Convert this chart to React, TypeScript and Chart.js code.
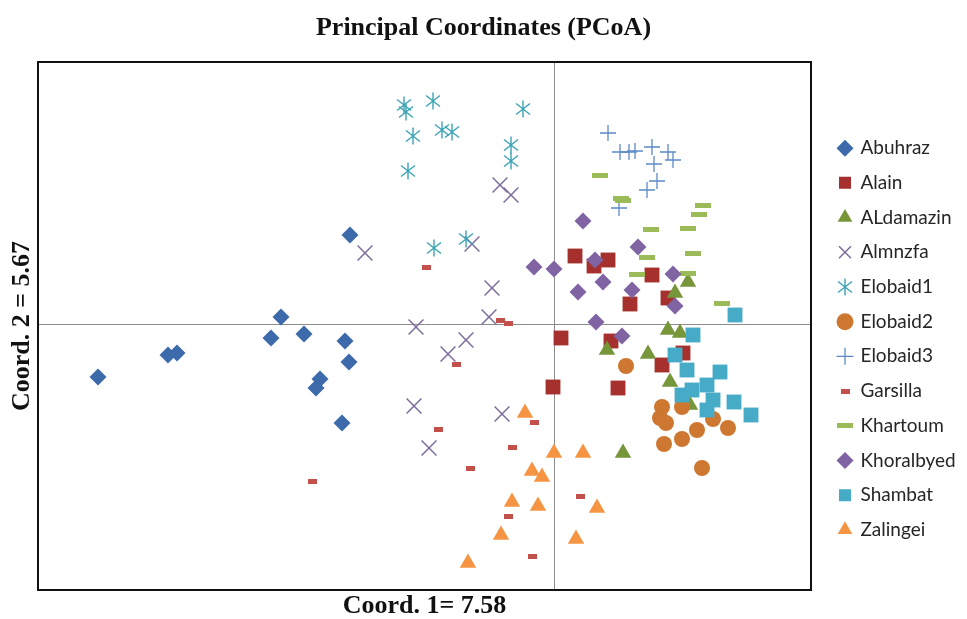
import React, { useEffect, useRef } from "react";
import { Chart, registerables } from "chart.js";

Chart.register(...registerables);

// ---- Data (Coord. 1, Coord. 2) per population ----
const abuhraz: [number, number][] = [
  [-2.73, 0.07], [-2.04, 0.89], [-4.56, -0.53], [-3.86, -0.31], [-3.77, -0.29], [-2.83, -0.14],
  [-2.5, -0.1], [-2.09, -0.17], [-2.05, -0.38], [-2.34, -0.55], [-2.38, -0.64], [-2.12, -0.99],
];
const alain: [number, number][] = [
  [0.21, 0.68], [0.4, 0.58], [0.54, 0.64], [0.98, 0.49], [0.76, 0.2], [1.14, 0.26],
  [0.07, -0.14], [0.57, -0.17], [1.29, -0.29], [1.08, -0.41], [-0.01, -0.63], [0.64, -0.64],
];
const aldamazin: [number, number][] = [
  [1.34, 0.42], [1.21, 0.31], [1.14, -0.06], [1.26, -0.09], [0.53, -0.26], [0.94, -0.3],
  [1.16, -0.58], [1.36, -0.81], [0.69, -1.29],
];
const almnzfa: [number, number][] = [
  [-0.54, 1.39], [-0.43, 1.29], [-1.89, 0.71], [-0.82, 0.8], [-0.62, 0.36], [-0.65, 0.07],
  [-1.38, -0.03], [-0.88, -0.16], [-1.06, -0.3], [-1.4, -0.82], [-0.52, -0.9], [-1.25, -1.24],
];
const elobaid1: [number, number][] = [
  [-1.5, 2.19], [-1.48, 2.12], [-1.21, 2.23], [-0.31, 2.15], [-1.41, 1.88], [-1.12, 1.94],
  [-1.02, 1.92], [-0.43, 1.79], [-0.43, 1.63], [-1.46, 1.53], [-1.2, 0.76], [-0.88, 0.85],
];
const elobaid2: [number, number][] = [
  [0.72, -0.42], [1.08, -0.83], [1.28, -0.83], [1.06, -0.94], [1.12, -0.99], [1.59, -0.95],
  [1.43, -1.06], [1.74, -1.04], [1.1, -1.2], [1.28, -1.15], [1.48, -1.44],
];
const elobaid3: [number, number][] = [
  [0.54, 1.91], [0.66, 1.72], [0.75, 1.72], [0.81, 1.73], [0.98, 1.77], [1.14, 1.72],
  [1.19, 1.64], [1.0, 1.6], [1.03, 1.43], [0.93, 1.34], [0.65, 1.16],
];
const garsilla: [number, number][] = [
  [-1.28, 0.57], [-0.54, 0.04], [-0.46, 0.01], [-0.98, -0.4], [-1.16, -1.05], [-0.2, -0.98],
  [-0.42, -1.23], [-0.84, -1.44], [-2.42, -1.57], [0.26, -1.72], [-0.46, -1.92], [-0.22, -2.32],
];
const khartoum: [number, number][] = [
  [0.46, 1.49], [0.69, 1.24], [0.67, 1.26], [1.49, 1.19], [1.45, 1.1], [0.97, 0.95],
  [1.34, 0.96], [0.93, 0.67], [1.39, 0.71], [0.83, 0.5], [1.34, 0.51], [1.68, 0.21],
];
const khoralbyed: [number, number][] = [
  [-0.2, 0.57], [0.0, 0.55], [0.29, 1.03], [0.41, 0.64], [0.84, 0.77], [0.49, 0.42],
  [0.24, 0.32], [0.78, 0.34], [1.19, 0.5], [1.21, 0.18], [0.42, 0.02], [0.68, -0.12],
];
const shambat: [number, number][] = [
  [1.81, 0.09], [1.39, -0.11], [1.21, -0.31], [1.33, -0.46], [1.66, -0.48], [1.53, -0.61],
  [1.28, -0.71], [1.38, -0.66], [1.59, -0.76], [1.53, -0.86], [1.8, -0.78], [1.97, -0.91],
];
const zalingei: [number, number][] = [
  [-0.29, -0.89], [0.0, -1.29], [0.29, -1.29], [-0.22, -1.47], [-0.12, -1.53], [-0.42, -1.78],
  [-0.16, -1.82], [0.43, -1.84], [-0.53, -2.11], [0.22, -2.15], [-0.86, -2.39],
];

const axisRangeX: [number, number] = [-5.16, 2.57];
const axisRangeY: [number, number] = [-2.66, 2.62];

const chartTitle = "Principal Coordinates (PCoA)";
const xTitle = "Coord. 1= 7.58";
const yTitle = "Coord. 2 = 5.67";

const SERIF = "'Liberation Serif', 'Times New Roman', serif";

function makeAsterisk(color: string) {
  const c = document.createElement("canvas");
  c.width = 18;
  c.height = 18;
  const g = c.getContext("2d")!;
  g.strokeStyle = color;
  g.lineWidth = 1.4;
  g.beginPath();
  g.moveTo(9, 0.5);
  g.lineTo(9, 17.5);
  g.moveTo(2, 3.5);
  g.lineTo(16, 14.5);
  g.moveTo(2, 14.5);
  g.lineTo(16, 3.5);
  g.stroke();
  return c;
}

function makeDash(color: string, w: number, h: number) {
  const c = document.createElement("canvas");
  c.width = w;
  c.height = h;
  const g = c.getContext("2d")!;
  g.fillStyle = color;
  g.fillRect(0, 0, w, h);
  return c;
}

const boxPlugin = {
  id: "plotBox",
  beforeDatasetsDraw(chart: any) {
    const { ctx, chartArea } = chart;
    ctx.save();
    ctx.strokeStyle = "#111";
    ctx.lineWidth = 2;
    ctx.strokeRect(chartArea.left, chartArea.top, chartArea.right - chartArea.left, chartArea.bottom - chartArea.top);
    ctx.restore();
  },
};

const legendPlacement = {
  id: "legendPlacement",
  afterInit(chart: any) {
    const legend = chart.legend;
    if (!legend) return;
    const orig = legend.fit.bind(legend);
    legend.fit = function () {
      orig();
      this.width = 156;
    };
  },
  afterLayout(chart: any) {
    const legend = chart.legend;
    if (!legend) return;
    legend.left += 12.3;
    legend.right += 12.3;
    legend.top += 13;
    legend.bottom += 13;
  },
};

export default function App() {
  const ref = useRef<HTMLCanvasElement | null>(null);

  useEffect(() => {
    if (!ref.current) return;
    const pts = (a: [number, number][]) => a.map(([x, y]) => ({ x, y }));

    const series: any[] = [
      { label: "Abuhraz", data: abuhraz, style: "rectRot", r: 8.5, color: "#3C6AAA", bw: 0 },
      { label: "Alain", data: alain, style: "rect", r: 10.5, color: "#A5302D", bw: 0 },
      { label: "ALdamazin", data: aldamazin, style: "triangle", r: 9.5, color: "#77963A", bw: 0 },
      { label: "Almnzfa", data: almnzfa, style: "crossRot", r: 10.5, color: "#7D6D9C", bw: 1.5 },
      { label: "Elobaid1", data: elobaid1, style: makeAsterisk("#3AA3B5"), r: 9, color: "#3AA3B5", bw: 1.4 },
      { label: "Elobaid2", data: elobaid2, style: "circle", r: 8, color: "#CD7730", bw: 0 },
      { label: "Elobaid3", data: elobaid3, style: "cross", r: 8, color: "#5B89C8", bw: 1.3 },
      { label: "Garsilla", data: garsilla, style: makeDash("#C4504C", 9, 5), r: 5, color: "#C4504C", bw: 0 },
      { label: "Khartoum", data: khartoum, style: makeDash("#9BBB59", 16, 5), r: 8, color: "#9BBB59", bw: 0 },
      { label: "Khoralbyed", data: khoralbyed, style: "rectRot", r: 8.5, color: "#8063A3", bw: 0 },
      { label: "Shambat", data: shambat, style: "rect", r: 10.5, color: "#45ABC7", bw: 0 },
      { label: "Zalingei", data: zalingei, style: "triangle", r: 9.5, color: "#F59443", bw: 0 },
    ];

    const datasets = series.map((s, i) => ({
      label: s.label,
      data: pts(s.data),
      pointStyle: s.style,
      pointRadius: s.r,
      pointHoverRadius: s.r,
      backgroundColor: s.color,
      borderColor: s.color,
      borderWidth: s.bw,
      pointBorderWidth: s.bw,
      order: series.length - i,
    }));

    const zeroGrid = (ctx: any) => (ctx.tick && Math.abs(ctx.tick.value) < 1e-9 ? "#8C8C8C" : "rgba(0,0,0,0)");

    const chart = new Chart(ref.current, {
      type: "scatter",
      data: { datasets },
      plugins: [boxPlugin, legendPlacement],
      options: {
        animation: false,
        responsive: false,
        events: [],
        layout: { padding: 0 },
        scales: {
          x: {
            type: "linear",
            min: axisRangeX[0],
            max: axisRangeX[1],
            ticks: { display: false, stepSize: 1 },
            grid: { display: true, drawTicks: false, color: zeroGrid, lineWidth: 1 },
            border: { display: false },
            title: {
              display: true,
              text: xTitle,
              color: "#111",
              font: { family: SERIF, size: 26, weight: "bold", lineHeight: 1 },
              padding: { top: 3, bottom: 0 },
            },
          },
          y: {
            type: "linear",
            min: axisRangeY[0],
            max: axisRangeY[1],
            ticks: { display: false, stepSize: 1 },
            grid: { display: true, drawTicks: false, color: zeroGrid, lineWidth: 1 },
            border: { display: false },
            title: {
              display: true,
              text: yTitle,
              color: "#111",
              font: { family: SERIF, size: 26, weight: "bold", lineHeight: 1 },
              padding: { top: 9, bottom: 3 },
            },
          },
        },
        plugins: {
          title: {
            display: true,
            text: chartTitle,
            color: "#111",
            font: { family: SERIF, size: 26, weight: "bold", lineHeight: 1.2 },
            padding: { top: 12.4, bottom: 18.4 },
          },
          legend: {
            display: true,
            position: "right",
            fullSize: false,
            align: "center",
            labels: {
              usePointStyle: true,
              boxWidth: 12,
              boxHeight: 12,
              padding: 15.7,
              color: "#262626",
              font: { family: "Lato, 'Open Sans', sans-serif", size: 19 },
              sort: (a: any, b: any) => a.datasetIndex - b.datasetIndex,
            },
          },
          tooltip: { enabled: false },
        },
      } as any,
    });
    return () => chart.destroy();
  }, []);

  return (
    <div style={{ position: "fixed", left: 0, top: 0, width: 967, height: 619, background: "#fff" }}>
      <canvas ref={ref} width={967} height={619} style={{ display: "block", width: 967, height: 619 }} />
    </div>
  );
}
